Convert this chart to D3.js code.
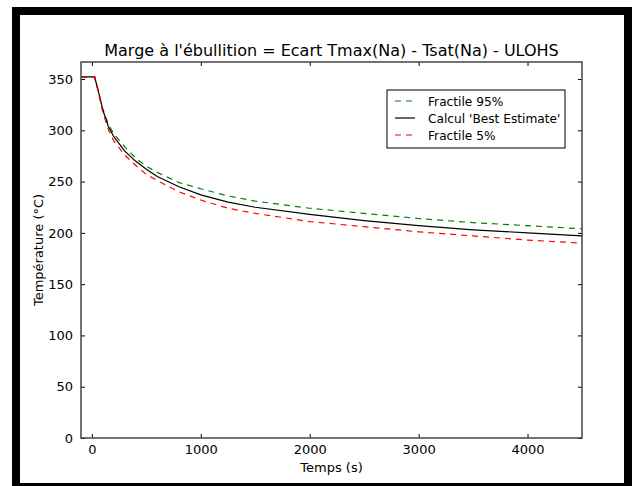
<!DOCTYPE html>
<html>
<head>
<meta charset="utf-8">
<script src="https://cdn.jsdelivr.net/npm/d3@7"></script>
<style>
body { margin: 0; background: #fff; }
svg { display: block; font-family: "DejaVu Sans", sans-serif; }
</style>
</head>
<body>
<svg id="chart"></svg>
<script>
// time (s)
var temps = [-100, 0, 25, 50, 100, 150, 200, 300, 400, 500, 600, 800, 1000, 1250, 1500, 2000, 2500, 3000, 3500, 4000, 4500];
var fractile95 = [352, 352, 352, 342, 321, 306, 297, 284, 273, 265, 259, 249, 243, 236, 231, 224, 219, 214, 210, 207, 204];
var bestEstimate = [352, 352, 352, 342, 320, 304, 294, 280, 270, 262, 255, 245, 237, 230, 225, 218, 212, 207, 203, 200, 197];
var fractile5 = [352, 352, 352, 341, 318, 301, 290, 276, 266, 257, 251, 240, 232, 224, 219, 211, 206, 201, 197, 193, 190];

var xTicks = [0, 1000, 2000, 3000, 4000];
var yTicks = [0, 50, 100, 150, 200, 250, 300, 350];

var series = [
  {name: "Fractile 95%", values: fractile95, color: "#008000", dash: "6,5"},
  {name: "Calcul 'Best Estimate'", values: bestEstimate, color: "#000000", dash: null},
  {name: "Fractile 5%", values: fractile5, color: "#ff0000", dash: "6,5"}
];

var W = 633, H = 486;
var margins = {top: 62, left: 81, right: 51, bottom: 48};
var width = W - margins.left - margins.right;
var height = H - margins.top - margins.bottom;

var svg = d3.select("#chart").attr("width", W).attr("height", H);

// outer black frame
svg.append("rect")
  .attr("x", 16).attr("y", 11)
  .attr("width", 612).attr("height", 476)
  .attr("fill", "#fff")
  .attr("stroke", "#000")
  .attr("stroke-width", 8);

var xScale = d3.scaleLinear().domain([-100, 4500]).range([0, width]);
var yScale = d3.scaleLinear().domain([0, 366.6]).range([height, 0]);

var g = svg.append("g").attr("transform", "translate(" + margins.left + "," + margins.top + ")");

// curves
var line = d3.line()
  .x(function(d){ return xScale(d[0]); })
  .y(function(d){ return yScale(d[1]); });

series.forEach(function(s){
  g.append("path")
    .datum(temps.map(function(t, i){ return [t, s.values[i]]; }))
    .attr("d", line)
    .attr("fill", "none")
    .attr("stroke", s.color)
    .attr("stroke-width", 1.2)
    .attr("stroke-dasharray", s.dash);
});

// axes, ticks inside on all four sides
var xAxis = d3.axisBottom(xScale).tickValues(xTicks).tickFormat(d3.format("d")).tickSizeInner(-4).tickSizeOuter(0).tickPadding(7);
var yAxis = d3.axisLeft(yScale).tickValues(yTicks).tickFormat(d3.format("d")).tickSizeInner(-4).tickSizeOuter(0).tickPadding(8);
var xTop = d3.axisTop(xScale).tickValues(xTicks).tickSizeInner(-4).tickSizeOuter(0).tickFormat("");
var yRight = d3.axisRight(yScale).tickValues(yTicks).tickSizeInner(-4).tickSizeOuter(0).tickFormat("");

g.append("g").attr("transform", "translate(0," + height + ")").call(xAxis);
g.append("g").call(yAxis);
g.append("g").call(xTop);
g.append("g").attr("transform", "translate(" + width + ",0)").call(yRight);

g.selectAll(".domain").remove();
g.selectAll(".tick line").attr("stroke", "#000").attr("stroke-width", 1);
g.selectAll(".tick text").attr("fill", "#000").style("font-size", "13px").style("font-family", "DejaVu Sans");

// axes box
g.append("rect")
  .attr("x", 0).attr("y", 0)
  .attr("width", width).attr("height", height)
  .attr("fill", "none")
  .attr("stroke", "#444")
  .attr("stroke-width", 1.5);

// title and labels
svg.append("text")
  .attr("x", margins.left + width / 2).attr("y", 56)
  .attr("text-anchor", "middle")
  .style("font-size", "16px")
  .text("Marge à l'ébullition = Ecart Tmax(Na) - Tsat(Na) - ULOHS");

svg.append("text")
  .attr("x", margins.left + width / 2).attr("y", 472)
  .attr("text-anchor", "middle")
  .style("font-size", "13px")
  .text("Temps (s)");

svg.append("text")
  .attr("transform", "translate(43," + (margins.top + height / 2) + ") rotate(-90)")
  .attr("text-anchor", "middle")
  .style("font-size", "13px")
  .text("Température (°C)");

// legend
var leg = svg.append("g").attr("transform", "translate(387,90)");
leg.append("rect")
  .attr("width", 178).attr("height", 58)
  .attr("fill", "#fff").attr("stroke", "#000").attr("stroke-width", 1);

series.forEach(function(s, i){
  var y = 11 + i * 17;
  leg.append("line")
    .attr("x1", 8).attr("x2", 28).attr("y1", y).attr("y2", y)
    .attr("stroke", s.color).attr("stroke-width", 1.2)
    .attr("stroke-dasharray", s.dash);
  leg.append("text")
    .attr("x", 41).attr("y", y + 4.5)
    .style("font-size", "12.2px")
    .text(s.name);
});
</script>
</body>
</html>
